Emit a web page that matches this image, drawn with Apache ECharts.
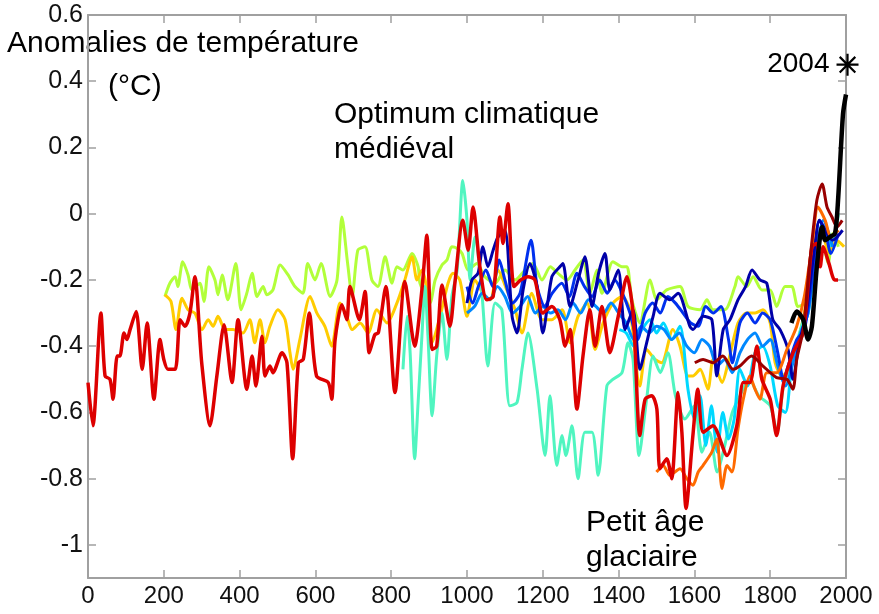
<!DOCTYPE html>
<html lang="fr">
<head>
    <meta charset="UTF-8">
    <title>Anomalies de température</title>
    <script type="text/javascript" src="https://cdn.jsdelivr.net/npm/echarts@6/dist/echarts.min.js"></script>
    <style>
        html, body { margin: 0; padding: 0; background: #fff; }
    </style>
</head>
<body>
<div id="main" style="width: 879px;height:614px;"></div>
<script type="text/javascript">
    // ticks
    var xTicks = [0, 200, 400, 600, 800, 1000, 1200, 1400, 1600, 1800, 2000];
    var yTicks = [-1, -0.8, -0.6, -0.4, -0.2, 0, 0.2, 0.4, 0.6];

    // [année, anomalie]
    var redData = [[0,-0.51],[13,-0.64],[34,-0.30],[45,-0.49],[58,-0.50],[66,-0.56],[77,-0.43],[84,-0.43],[95,-0.36],[103,-0.38],[111,-0.35],[127,-0.295],[143,-0.47],[156,-0.33],[174,-0.56],[190,-0.38],[200,-0.44],[211,-0.47],[230,-0.47],[243,-0.32],[256,-0.34],[269,-0.30],[282,-0.19],[300,-0.45],[322,-0.64],[340,-0.49],[359,-0.335],[380,-0.51],[396,-0.32],[419,-0.53],[433,-0.43],[443,-0.52],[459,-0.37],[467,-0.49],[480,-0.46],[488,-0.48],[512,-0.42],[525,-0.45],[540,-0.74],[555,-0.45],[568,-0.44],[584,-0.30],[603,-0.49],[634,-0.51],[643,-0.56],[652,-0.38],[670,-0.275],[683,-0.32],[691,-0.22],[716,-0.32],[731,-0.235],[742,-0.42],[757,-0.365],[766,-0.36],[786,-0.22],[810,-0.54],[836,-0.205],[862,-0.40],[881,-0.23],[894,-0.065],[908,-0.41],[920,-0.40],[934,-0.215],[955,-0.34],[968,-0.21],[989,-0.02],[1003,-0.11],[1016,0.02],[1034,-0.16],[1052,-0.26],[1069,-0.25],[1087,-0.01],[1095,-0.09],[1108,0.03],[1124,-0.22],[1142,-0.20],[1161,-0.19],[1179,-0.20],[1200,-0.30],[1224,-0.28],[1245,-0.32],[1259,-0.40],[1272,-0.35],[1290,-0.59],[1306,-0.43],[1324,-0.29],[1338,-0.40],[1356,-0.28],[1377,-0.42],[1399,-0.31],[1422,-0.19],[1439,-0.31],[1456,-0.67],[1470,-0.56],[1488,-0.55],[1501,-0.59],[1509,-0.77],[1527,-0.74],[1540,-0.80],[1557,-0.54],[1567,-0.66],[1578,-0.89],[1596,-0.67],[1609,-0.53],[1623,-0.66],[1649,-0.64],[1686,-0.73],[1712,-0.64],[1729,-0.51],[1746,-0.51],[1765,-0.40],[1778,-0.50],[1800,-0.56],[1817,-0.67],[1834,-0.52],[1860,-0.42],[1887,-0.36],[1910,-0.10],[1923,-0.09],[1932,-0.16],[1940,-0.10],[1955,-0.15],[1970,-0.20],[1979,-0.20]];

    var yellowGreenData = [[203,-0.25],[216,-0.21],[230,-0.19],[237,-0.22],[250,-0.145],[264,-0.185],[274,-0.23],[295,-0.21],[306,-0.265],[319,-0.16],[335,-0.20],[343,-0.245],[354,-0.185],[369,-0.26],[390,-0.15],[404,-0.29],[419,-0.24],[433,-0.18],[446,-0.25],[462,-0.22],[472,-0.245],[488,-0.23],[507,-0.155],[528,-0.185],[546,-0.22],[567,-0.24],[580,-0.15],[599,-0.20],[615,-0.15],[639,-0.25],[657,-0.20],[670,-0.01],[685,-0.15],[697,-0.25],[712,-0.11],[731,-0.10],[749,-0.20],[765,-0.22],[784,-0.13],[802,-0.21],[815,-0.16],[831,-0.17],[855,-0.12],[871,-0.16],[876,-0.21],[902,-0.27],[916,-0.20],[934,-0.155],[947,-0.14],[960,-0.10],[974,-0.105],[987,-0.12],[1003,-0.17],[1026,-0.15],[1047,-0.19],[1074,-0.21],[1100,-0.17],[1127,-0.20],[1153,-0.17],[1174,-0.15],[1198,-0.20],[1220,-0.16],[1240,-0.18],[1264,-0.20],[1285,-0.17],[1306,-0.14],[1324,-0.24],[1343,-0.17],[1356,-0.24],[1385,-0.145],[1409,-0.16],[1422,-0.16],[1435,-0.26],[1456,-0.33],[1483,-0.20],[1501,-0.26],[1527,-0.23],[1562,-0.22],[1583,-0.28],[1615,-0.29],[1633,-0.26],[1649,-0.29],[1680,-0.29],[1707,-0.22],[1715,-0.19],[1738,-0.22],[1755,-0.19],[1778,-0.23],[1800,-0.23],[1817,-0.28],[1839,-0.22],[1857,-0.22],[1873,-0.28],[1892,-0.27],[1905,-0.19],[1923,-0.14],[1940,-0.10],[1953,-0.15],[1965,-0.06],[1980,-0.10]];

    var yellowData = [[203,-0.245],[219,-0.265],[232,-0.35],[248,-0.255],[264,-0.29],[282,-0.30],[301,-0.35],[317,-0.32],[330,-0.34],[343,-0.31],[362,-0.35],[383,-0.35],[409,-0.36],[427,-0.32],[440,-0.39],[454,-0.32],[467,-0.39],[480,-0.34],[501,-0.29],[520,-0.32],[533,-0.42],[541,-0.47],[559,-0.38],[586,-0.25],[604,-0.30],[625,-0.34],[643,-0.40],[665,-0.27],[683,-0.31],[697,-0.35],[718,-0.33],[739,-0.36],[762,-0.29],[789,-0.33],[815,-0.27],[836,-0.20],[855,-0.13],[868,-0.20],[881,-0.17],[894,-0.23],[908,-0.39],[929,-0.31],[950,-0.21],[963,-0.18],[981,-0.20],[1000,-0.31],[1021,-0.20],[1042,-0.24],[1061,-0.26],[1082,-0.17],[1105,-0.23],[1127,-0.29],[1145,-0.36],[1171,-0.24],[1198,-0.32],[1224,-0.32],[1251,-0.29],[1272,-0.39],[1293,-0.31],[1317,-0.27],[1338,-0.41],[1359,-0.33],[1385,-0.27],[1409,-0.25],[1430,-0.29],[1456,-0.52],[1474,-0.41],[1496,-0.44],[1514,-0.45],[1543,-0.35],[1562,-0.40],[1583,-0.49],[1596,-0.49],[1615,-0.47],[1636,-0.53],[1649,-0.44],[1673,-0.51],[1689,-0.45],[1715,-0.33],[1738,-0.30],[1760,-0.30],[1781,-0.29],[1800,-0.33],[1813,-0.45],[1831,-0.49],[1852,-0.47],[1870,-0.40],[1890,-0.30],[1918,-0.10],[1937,-0.06],[1955,-0.12],[1975,-0.08],[1995,-0.10]];

    var turquoiseData = [[831,-0.47],[842,-0.31],[850,-0.42],[862,-0.74],[871,-0.57],[881,-0.37],[889,-0.22],[897,-0.37],[908,-0.61],[920,-0.43],[934,-0.30],[947,-0.44],[960,-0.25],[974,-0.17],[989,0.10],[1000,-0.02],[1008,-0.20],[1021,-0.07],[1040,-0.25],[1055,-0.46],[1074,-0.27],[1092,-0.29],[1113,-0.58],[1132,-0.57],[1145,-0.47],[1161,-0.36],[1185,-0.53],[1206,-0.73],[1219,-0.55],[1237,-0.76],[1251,-0.67],[1261,-0.73],[1277,-0.64],[1293,-0.80],[1311,-0.66],[1330,-0.66],[1346,-0.79],[1369,-0.52],[1385,-0.50],[1409,-0.48],[1425,-0.39],[1438,-0.44],[1454,-0.73],[1474,-0.56],[1491,-0.43],[1510,-0.48],[1530,-0.42],[1550,-0.55],[1575,-0.62],[1600,-0.58],[1620,-0.72],[1640,-0.66],[1660,-0.78],[1680,-0.70],[1700,-0.60],[1720,-0.55],[1745,-0.50],[1770,-0.55],[1800,-0.58],[1818,-0.66],[1835,-0.52],[1855,-0.45],[1880,-0.35],[1905,-0.25],[1925,-0.08],[1945,-0.04],[1965,-0.08],[1980,0.0]];

    var cyanData = [[1402,-0.35],[1420,-0.36],[1440,-0.40],[1456,-0.36],[1483,-0.32],[1500,-0.36],[1518,-0.33],[1540,-0.38],[1562,-0.34],[1583,-0.53],[1600,-0.62],[1615,-0.55],[1630,-0.70],[1645,-0.58],[1660,-0.72],[1675,-0.60],[1690,-0.68],[1705,-0.62],[1720,-0.47],[1740,-0.52],[1760,-0.42],[1780,-0.40],[1800,-0.46],[1820,-0.58],[1840,-0.60],[1860,-0.42],[1880,-0.36],[1900,-0.30],[1920,-0.14],[1940,-0.04],[1960,-0.10]];

    var lightBlueData = [[1000,-0.30],[1020,-0.28],[1040,-0.24],[1060,-0.26],[1080,-0.22],[1100,-0.25],[1120,-0.30],[1140,-0.28],[1160,-0.25],[1180,-0.30],[1200,-0.28],[1220,-0.30],[1240,-0.29],[1260,-0.32],[1280,-0.27],[1300,-0.30],[1320,-0.26],[1340,-0.28],[1360,-0.30],[1380,-0.27],[1400,-0.30],[1420,-0.33],[1440,-0.38],[1460,-0.34],[1480,-0.36],[1500,-0.34],[1520,-0.35],[1540,-0.38],[1560,-0.36],[1580,-0.40],[1600,-0.42],[1620,-0.38],[1640,-0.40],[1660,-0.46],[1680,-0.44],[1700,-0.48],[1720,-0.42],[1740,-0.38],[1760,-0.36],[1780,-0.40],[1800,-0.38],[1820,-0.46],[1840,-0.52],[1860,-0.45],[1880,-0.36],[1900,-0.30],[1920,-0.12],[1940,-0.02],[1965,-0.10]];

    var blueData = [[1000,-0.22],[1015,-0.27],[1030,-0.22],[1050,-0.17],[1068,-0.22],[1085,-0.14],[1100,-0.20],[1120,-0.27],[1140,-0.24],[1169,-0.08],[1185,-0.22],[1205,-0.28],[1225,-0.24],[1250,-0.21],[1270,-0.25],[1290,-0.18],[1310,-0.22],[1330,-0.25],[1350,-0.20],[1370,-0.24],[1390,-0.20],[1410,-0.24],[1430,-0.30],[1450,-0.38],[1470,-0.30],[1490,-0.27],[1510,-0.30],[1530,-0.25],[1550,-0.27],[1570,-0.30],[1590,-0.33],[1610,-0.34],[1630,-0.28],[1650,-0.30],[1670,-0.28],[1690,-0.38],[1700,-0.45],[1720,-0.33],[1740,-0.30],[1760,-0.33],[1780,-0.30],[1800,-0.32],[1820,-0.42],[1835,-0.50],[1850,-0.45],[1870,-0.38],[1890,-0.35],[1910,-0.20],[1930,-0.02],[1945,-0.05],[1960,-0.12],[1980,-0.06]];

    var darkBlueData = [[1000,-0.27],[1013,-0.20],[1029,-0.18],[1042,-0.10],[1055,-0.16],[1069,-0.11],[1082,-0.07],[1100,-0.05],[1119,-0.31],[1132,-0.36],[1148,-0.23],[1166,-0.15],[1185,-0.22],[1200,-0.36],[1224,-0.19],[1245,-0.16],[1253,-0.15],[1272,-0.28],[1293,-0.20],[1311,-0.13],[1330,-0.28],[1347,-0.18],[1364,-0.12],[1377,-0.23],[1399,-0.17],[1417,-0.35],[1438,-0.29],[1456,-0.47],[1474,-0.39],[1491,-0.31],[1509,-0.24],[1535,-0.26],[1557,-0.24],[1588,-0.34],[1596,-0.35],[1623,-0.31],[1646,-0.32],[1659,-0.49],[1676,-0.35],[1694,-0.32],[1715,-0.26],[1735,-0.22],[1752,-0.17],[1773,-0.20],[1791,-0.21],[1807,-0.32],[1826,-0.35],[1847,-0.41],[1860,-0.50],[1875,-0.40],[1895,-0.30],[1915,-0.12],[1930,-0.02],[1945,-0.05],[1965,-0.08],[1991,-0.05]];

    var orangeData = [[1500,-0.78],[1518,-0.76],[1535,-0.79],[1562,-0.77],[1580,-0.80],[1596,-0.82],[1610,-0.78],[1623,-0.76],[1646,-0.72],[1659,-0.68],[1673,-0.83],[1686,-0.76],[1699,-0.78],[1715,-0.65],[1729,-0.56],[1746,-0.49],[1760,-0.53],[1773,-0.56],[1791,-0.48],[1817,-0.48],[1844,-0.41],[1870,-0.34],[1890,-0.25],[1910,-0.10],[1926,0.02],[1945,-0.02],[1960,-0.07],[1980,-0.05]];

    var darkRedData = [[1601,-0.45],[1623,-0.44],[1649,-0.45],[1675,-0.43],[1702,-0.47],[1720,-0.46],[1751,-0.43],[1781,-0.46],[1817,-0.495],[1844,-0.50],[1860,-0.53],[1870,-0.44],[1887,-0.35],[1905,-0.14],[1923,0.04],[1937,0.09],[1950,0.02],[1963,-0.01],[1976,-0.04],[1990,-0.02]];

    var blackData = [[1856,-0.33],[1870,-0.295],[1887,-0.32],[1900,-0.38],[1910,-0.34],[1923,-0.16],[1937,-0.04],[1945,-0.08],[1958,-0.07],[1971,-0.06],[1979,0.04],[1992,0.30],[2000,0.36]];

    var starPoint = [[2004, 0.45]];

    var font = 'Liberation Sans, Arial, sans-serif';
    var axisGray = '#a0a0a0';

    // asterisque à 8 branches
    var starPath = 'path://M9,0h2v20h-2z M0,9h20v2h-20z M2.2,3.6L3.6,2.2L17.8,16.4L16.4,17.8Z M16.4,2.2L17.8,3.6L3.6,17.8L2.2,16.4Z';

    function lineSeries(data, color, width) {
        return {
            type: 'line',
            data: data,
            showSymbol: false,
            smooth: 0.25,
            lineStyle: { color: color, width: width },
            itemStyle: { color: color },
            animation: false
        };
    }

    function plainLabel(v) {
        return String(v);
    }

    var baseX = {
        type: 'value', min: 0, max: 2000, interval: 200,
        splitLine: { show: false },
        axisLine: { onZero: false, lineStyle: { color: axisGray, width: 2 } },
        axisTick: { inside: true, length: 8, lineStyle: { color: axisGray, width: 1.5 } }
    };
    var baseY = {
        type: 'value', min: -1.1, max: 0.6,
        splitLine: { show: false },
        axisLine: { onZero: false, lineStyle: { color: axisGray, width: 2 } },
        axisTick: { inside: true, length: 8, customValues: yTicks, lineStyle: { color: axisGray, width: 1.5 } }
    };

    var option = {
        backgroundColor: '#ffffff',
        grid: { left: 88, right: 33, top: 15, bottom: 36 },
        xAxis: [
            Object.assign({}, baseX, {
                position: 'bottom',
                axisLabel: { color: '#111', fontSize: 24, fontFamily: font, margin: 6, customValues: xTicks, formatter: plainLabel }
            }),
            Object.assign({}, baseX, {
                position: 'top',
                axisLabel: { show: false }
            })
        ],
        yAxis: [
            Object.assign({}, baseY, {
                position: 'left',
                axisLabel: { color: '#111', fontSize: 25, fontFamily: font, margin: 5, customValues: yTicks, formatter: plainLabel }
            }),
            Object.assign({}, baseY, {
                position: 'right',
                axisLabel: { show: false }
            })
        ],
        graphic: [
            { type: 'text', left: 7, top: 29, style: { text: 'Anomalies de température', font: '30px ' + font, fill: '#000' } },
            { type: 'text', left: 108, top: 72, style: { text: '(°C)', font: '30px ' + font, fill: '#000' } },
            { type: 'text', left: 334, top: 100, style: { text: 'Optimum climatique', font: '30px ' + font, fill: '#000' } },
            { type: 'text', left: 334, top: 135, style: { text: 'médiéval', font: '30px ' + font, fill: '#000' } },
            { type: 'text', left: 586, top: 508, style: { text: 'Petit âge', font: '30px ' + font, fill: '#000' } },
            { type: 'text', left: 586, top: 543, style: { text: 'glaciaire', font: '30px ' + font, fill: '#000' } }
        ],
        series: [
            lineSeries(yellowGreenData, '#b2ff3a', 3),
            lineSeries(yellowData, '#ffcc00', 3),
            lineSeries(turquoiseData, '#50f5c0', 3),
            lineSeries(cyanData, '#00d8ff', 3),
            lineSeries(lightBlueData, '#0088ff', 3),
            lineSeries(blueData, '#0030ee', 3),
            lineSeries(darkBlueData, '#0000a8', 3),
            lineSeries(orangeData, '#ff6a00', 3),
            lineSeries(redData, '#dd0000', 3.5),
            lineSeries(darkRedData, '#990000', 3),
            lineSeries(blackData, '#000000', 4.5),
            {
                type: 'scatter',
                data: starPoint,
                clip: false,
                symbol: starPath,
                symbolSize: 22,
                itemStyle: { color: '#000', opacity: 1 },
                label: {
                    show: true, position: 'left', distance: 7,
                    formatter: '2004', color: '#000', fontSize: 28, fontFamily: font
                },
                animation: false
            }
        ]
    };

    var myChart = echarts.init(document.getElementById('main'));
    myChart.setOption(option);
</script>

</body>
</html>
